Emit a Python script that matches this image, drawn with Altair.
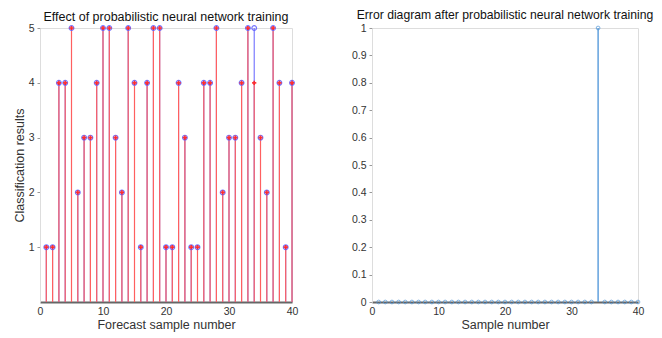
import altair as alt
import pandas as pd

samples = list(range(1, 41))
actual = [1, 1, 4, 4, 5, 2, 3, 3, 4, 5, 5, 3, 2, 5, 4, 1, 4, 5, 5, 1,
          1, 4, 3, 1, 1, 4, 4, 5, 2, 3, 3, 4, 5, 5, 3, 2, 5, 4, 1, 4]
predicted = [1, 1, 4, 4, 5, 2, 3, 3, 4, 5, 5, 3, 2, 5, 4, 1, 4, 5, 5, 1,
             1, 4, 3, 1, 1, 4, 4, 5, 2, 3, 3, 4, 5, 4, 3, 2, 5, 4, 1, 4]
error = [0, 0, 0, 0, 0, 0, 0, 0, 0, 0, 0, 0, 0, 0, 0, 0, 0, 0, 0, 0,
         0, 0, 0, 0, 0, 0, 0, 0, 0, 0, 0, 0, 0, 1, 0, 0, 0, 0, 0, 0]
x_ticks = [0, 10, 20, 30, 40]
left_y_ticks = [1, 2, 3, 4, 5]
right_y_ticks = [0, 0.1, 0.2, 0.3, 0.4, 0.5, 0.6, 0.7, 0.8, 0.9, 1]

FONT = "Liberation Sans"
RED = "#ff6060"
BLUE = "#6060ff"
LBLUE = "#4a93d8"

df_left = pd.DataFrame({"sample": samples, "actual": actual, "predicted": predicted})
df_right = pd.DataFrame({"sample": samples, "error": error})

def x_axis(title):
    return alt.X("sample:Q", scale=alt.Scale(domain=[0, 40], nice=False),
                 axis=alt.Axis(values=x_ticks, title=title, grid=False, ticks=False,
                               labelFlush=False,
                               domainColor="#666666", domainWidth=2,
                               labelFont=FONT, labelFontSize=10.5, labelColor="#333333",
                               titleFont=FONT, titleFontSize=12.5, titleFontWeight="normal",
                               titleColor="#333333", labelPadding=4, titlePadding=2))

def y_axis(field, dom, vals, title, fmt=None):
    kw = dict(values=vals, tickCount=len(vals), title=title, grid=False,
              domainColor="#dddddd", domainWidth=1, labelFlush=False,
              tickColor="#999999", tickSize=3, labelOverlap=False,
              labelFont=FONT, labelFontSize=10.5, labelColor="#333333",
              titleFont=FONT, titleFontSize=12.5, titleFontWeight="normal",
              titleColor="#333333", labelPadding=3, titlePadding=2)
    if fmt:
        kw["format"] = fmt
    return alt.Y(field, scale=alt.Scale(domain=dom, nice=False), axis=alt.Axis(**kw))

lbase = alt.Chart(df_left)
blue_stem = lbase.mark_rule(color=BLUE, strokeWidth=1).encode(
    x=x_axis("Forecast sample number"),
    y=y_axis("actual:Q", [0, 5], left_y_ticks, "Classification results"),
    y2=alt.datum(0))
red_stem = lbase.mark_rule(color=RED, strokeWidth=1.2).encode(
    x="sample:Q", y="predicted:Q", y2=alt.datum(0))
blue_pts = lbase.mark_point(shape="circle", filled=False, color=BLUE, size=22,
                            strokeWidth=1.2, opacity=0.85).encode(x="sample:Q", y="actual:Q")
red_pts = lbase.mark_point(shape="cross", filled=True, color="#ff2020", size=18,
                           opacity=0.9).encode(x="sample:Q", y="predicted:Q")

left = alt.layer(blue_stem, red_stem, blue_pts, red_pts).properties(
    width=252, height=274,
    title=alt.TitleParams("Effect of probabilistic neural network training",
                          font=FONT, fontSize=12.5, fontWeight="normal",
                          color="#111111", offset=0))

rbase = alt.Chart(df_right)
err_stem = rbase.mark_rule(color=LBLUE, strokeWidth=1.3).encode(
    x=x_axis("Sample number"),
    y=y_axis("error:Q", [0, 1], right_y_ticks, None, fmt="~g"),
    y2=alt.datum(0))
err_pts = rbase.mark_point(shape="circle", filled=False, color=LBLUE, size=14,
                           strokeWidth=1).encode(x="sample:Q", y="error:Q")

right = alt.layer(err_stem, err_pts).properties(
    width=266, height=274,
    title=alt.TitleParams("Error diagram after probabilistic neural network training",
                          font=FONT, fontSize=12.2, fontWeight="normal",
                          color="#111111", offset=1.5))

chart = alt.hconcat(left, right, spacing=80, bounds="flush").properties(
    padding={"left": 4, "top": 0, "right": 0, "bottom": 0}
).configure_view(stroke=None).configure(font=FONT)

chart.save("out.html", embed_options={"renderer": "svg", "actions": False})
